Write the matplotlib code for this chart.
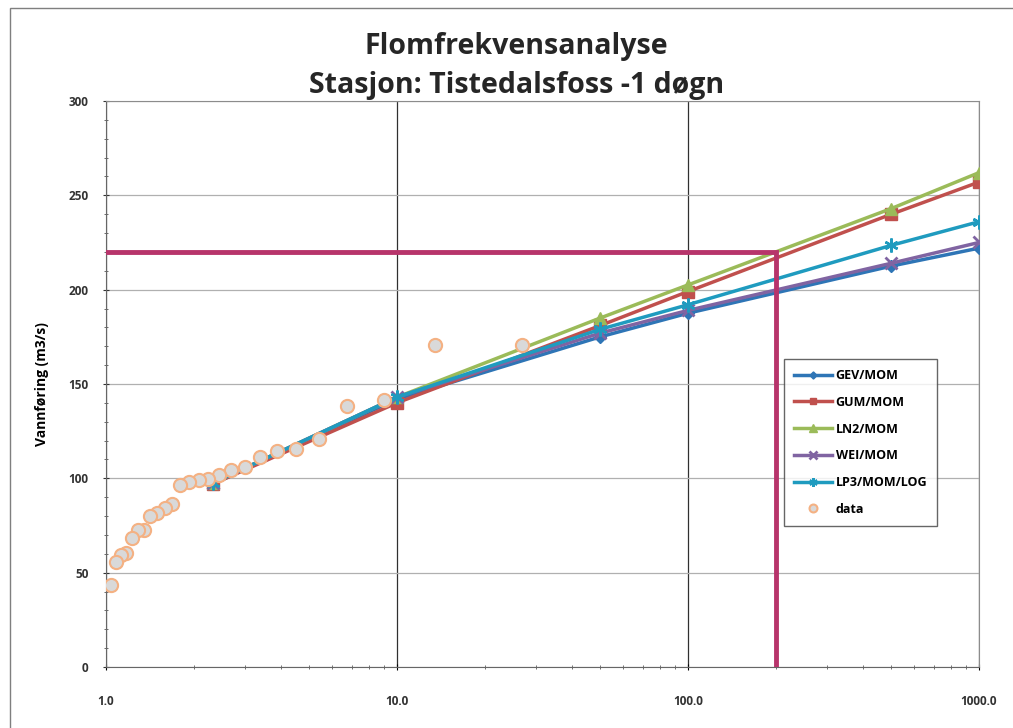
import numpy as np
import matplotlib.pyplot as plt
from matplotlib.ticker import FixedLocator, MultipleLocator, NullFormatter
from matplotlib.patches import Rectangle

plt.rcParams['font.family'] = ['Open Sans', 'DejaVu Sans']

# gjentaksintervall (år) for de tilpassede fordelingene
T_fit = [2.33, 10, 50, 100, 500, 1000]
gev = [97, 142, 175, 187.5, 212.5, 222]
gum = [97, 140, 181, 199, 240, 257]
ln2 = [97.5, 143, 185, 202.5, 243, 262]
wei = [97.5, 143, 177, 189, 214, 225]
lp3 = [97.5, 143, 179, 192, 223.5, 236]

# observerte flommer med plotteposisjon
T_obs = [27.0, 13.5, 9.0, 6.75, 5.4, 4.5, 3.86, 3.38, 3.0, 2.7, 2.45, 2.25, 2.08,
         1.93, 1.8, 1.69, 1.59, 1.5, 1.42, 1.35, 1.29, 1.23, 1.17, 1.13, 1.08, 1.04]
q_obs = [170.6, 170.6, 141.5, 138.3, 120.6, 115.5, 114.5, 111.4, 106.1, 104.4, 101.7,
         99.5, 99.1, 98.2, 96.3, 86.4, 84.4, 81.8, 80.0, 72.6, 72.6, 68.2, 60.6, 59.3,
         55.8, 43.4]

# dimensjonerende flom
q_dim = 220
T_dim = 200

fig = plt.figure(figsize=(10.13, 7.28), dpi=100)
ax = fig.add_axes([0.1046, 0.0838, 0.8618, 0.7775])

fig.patches.append(Rectangle((0.0099, -0.1), 1.2, 1.0890, transform=fig.transFigure,
                             fill=False, edgecolor='#7f7f7f', linewidth=1.0))

ax.plot(T_fit, gev, color='#2e75b6', marker='D', markersize=6, lw=2.5, label='GEV/MOM', zorder=3)
ax.plot(T_fit, gum, color='#c0504d', marker='s', markersize=8, lw=2.5, label='GUM/MOM', zorder=3)
ax.plot(T_fit, ln2, color='#9bbb59', marker='^', markersize=9, lw=2.5, label='LN2/MOM', zorder=3)
ax.plot(T_fit, wei, color='#8064a2', marker='x', markersize=9, mew=2, lw=2.5, label='WEI/MOM', zorder=3)
ax.plot(T_fit, lp3, color='#1f9bbf', marker=(6, 2, 0), markersize=10, mew=1.8, lw=2.5,
        label='LP3/MOM/LOG', zorder=3)
ax.plot(T_obs, q_obs, ls='none', marker='o', markersize=9.5, markerfacecolor='#d9d9d9',
        markeredgecolor='#f4b183', mew=1.5, label='data', zorder=4)

ax.plot([1, T_dim, T_dim], [q_dim, q_dim, 0], color='#b7346b', lw=3.5, zorder=5,
        solid_joinstyle='miter')

ax.set_xscale('log')
ax.set_xlim(1, 1000)
ax.set_ylim(0, 300)

ax.xaxis.set_major_locator(FixedLocator([1, 10, 100, 1000]))
ax.set_xticklabels(['1.0', '10.0', '100.0', '1000.0'], fontsize=8.5, fontweight='bold',
                   color='#333333')
ax.xaxis.set_minor_formatter(NullFormatter())
ax.yaxis.set_major_locator(MultipleLocator(50))
ax.yaxis.set_minor_locator(MultipleLocator(10))
ax.tick_params(axis='y', labelsize=8.5, colors='#333333', length=5, direction='inout', pad=10)
ax.tick_params(axis='x', which='major', length=5, direction='inout', pad=18)
ax.tick_params(which='minor', length=3, direction='inout', color='#555555')
for t in ax.get_yticklabels():
    t.set_fontweight('bold')

ax.grid(axis='y', which='major', color='#b0b0b0', lw=0.9)
ax.grid(axis='x', which='major', color='#303030', lw=0.9)
for s in ['top', 'right']:
    ax.spines[s].set_color('#8c8c8c')
for s in ['left', 'bottom']:
    ax.spines[s].set_color('#666666')

ax.set_ylabel('Vannføring (m3/s)', fontsize=10, fontweight='bold', labelpad=14)

leg = ax.legend(loc='upper left', bbox_to_anchor=(0.77, 0.555),
                prop={'weight': 'bold', 'size': 9}, frameon=True, fancybox=False,
                borderpad=0.8, labelspacing=1.1, handlelength=3.0, handletextpad=0.3,
                markerscale=0.6)
leg.get_frame().set_edgecolor('#404040')
leg.get_frame().set_linewidth(1.0)
leg.set_zorder(6)

fig.text(0.51, 0.936, 'Flomfrekvensanalyse', ha='center', va='center', fontsize=20.5,
         fontweight='bold', color='#262626')
fig.text(0.51, 0.882, 'Stasjon: Tistedalsfoss -1 døgn', ha='center', va='center',
         fontsize=20.5, fontweight='bold', color='#262626')

fig.savefig('out.png', dpi=100)
